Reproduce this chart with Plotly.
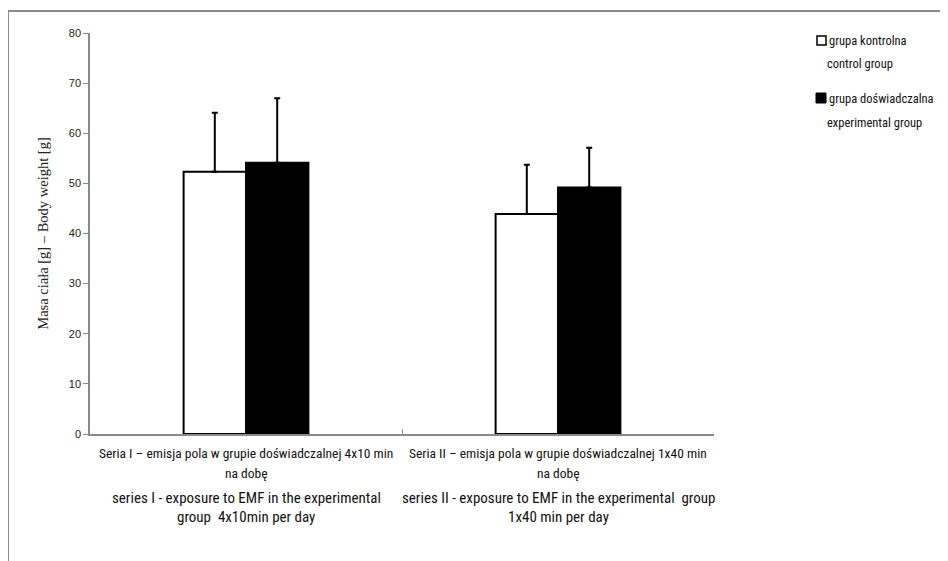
import plotly.graph_objects as go

# ---- data ----
categories = ["Seria I", "Seria II"]
control_values = [52.3, 43.9]
control_err = [11.8, 9.8]
experimental_values = [54.1, 49.2]
experimental_err = [12.9, 7.9]

series_names = ["grupa kontrolna", "grupa doświadczalna"]
series_names_en = ["control group", "experimental group"]

label_pl_1 = ["Seria I – emisja pola w grupie doświadczalnej 4x10 min",
              "Seria II – emisja pola w grupie doświadczalnej 1x40 min"]
label_pl_2 = ["na dobę", "na dobę"]
label_en_1 = ["series I - exposure to EMF in the experimental",
              "series II - exposure to EMF in the experimental  group"]
label_en_2 = ["group  4x10min per day", "1x40 min per day"]

y_ticks = [0, 10, 20, 30, 40, 50, 60, 70, 80]
y_title = "Masa ciała [g] – Body weight [g]"

# ---- layout geometry (page pixels; the page body has an 8px margin) ----
OFF = 8
W, H = 948 - OFF, 561 - OFF
PLOT_L, PLOT_R, PLOT_T, PLOT_B = 90, 714, 33, 434   # page pixels
L = PLOT_L - OFF
T = PLOT_T - OFF
R = (W + OFF) - PLOT_R
B = (H + OFF) - PLOT_B
PW = PLOT_R - PLOT_L
PH = PLOT_B - PLOT_T

def px(x):
    return (x - PLOT_L) / PW

def py(y):
    return (PLOT_B - y) / PH

TXT = "Roboto Condensed, sans-serif"

fig = go.Figure()
fig.add_trace(go.Bar(
    x=categories, y=control_values, name=series_names[0],
    marker=dict(color="white", line=dict(color="black", width=2)),
    error_y=dict(type="data", array=control_err, symmetric=False,
                 arrayminus=[0, 0], color="black", thickness=2, width=3),
    showlegend=False,
))
fig.add_trace(go.Bar(
    x=categories, y=experimental_values, name=series_names[1],
    marker=dict(color="black", line=dict(color="black", width=2)),
    error_y=dict(type="data", array=experimental_err, symmetric=False,
                 arrayminus=[0, 0], color="black", thickness=2, width=3),
    showlegend=False,
))

annotations = []
for i, c in enumerate(categories):
    for txt, ypx, size in [(label_pl_1[i], 453, 13.5), (label_pl_2[i], 473, 13.5),
                           (label_en_1[i], 498, 15), (label_en_2[i], 517, 15)]:
        annotations.append(dict(
            x=c, xref="x", y=py(ypx), yref="paper", text=txt,
            showarrow=False, xanchor="center", yanchor="middle",
            font=dict(family=TXT, size=size, color="#111")))

# custom legend
legend_rows = [(series_names[0], 40), (series_names_en[0], 63),
               (series_names[1], 98), (series_names_en[1], 122)]
for j, (txt, ypx) in enumerate(legend_rows):
    xpx = 827 if j % 2 == 0 else 825
    annotations.append(dict(
        x=px(xpx), xref="paper", y=py(ypx), yref="paper", text=txt,
        showarrow=False, xanchor="left", yanchor="middle",
        font=dict(family=TXT, size=12.5, color="#111")))

shapes = [
    # outer frame (partially visible)
    dict(type="line", xref="paper", yref="paper", x0=px(8), x1=px(1000),
         y0=py(11), y1=py(11), line=dict(color="#8a8a8a", width=2)),
    dict(type="line", xref="paper", yref="paper", x0=px(8), x1=px(8),
         y0=py(11), y1=py(600), line=dict(color="#8a8a8a", width=2)),
    # legend squares
    dict(type="rect", xref="paper", yref="paper", x0=px(817), x1=px(826),
         y0=py(36), y1=py(45), fillcolor="white",
         line=dict(color="black", width=1.5)),
    dict(type="rect", xref="paper", yref="paper", x0=px(816), x1=px(826),
         y0=py(93), y1=py(103), fillcolor="black",
         line=dict(color="black", width=1)),
]

fig.update_layout(
    width=W, height=H,
    margin=dict(l=L, r=R, t=T, b=B, pad=0),
    paper_bgcolor="white", plot_bgcolor="white",
    barmode="group", bargap=0.6, bargroupgap=0,
    annotations=annotations, shapes=shapes,
    showlegend=False,
)
fig.update_xaxes(
    type="category", range=[-0.5, len(categories) - 0.5], autorange=False,
    showticklabels=False, tickson="boundaries",
    ticks="inside", ticklen=5, tickcolor="#8a8a8a", tickwidth=1,
    showline=True, linecolor="#8a8a8a", linewidth=1.5,
    showgrid=False, zeroline=False,
)
fig.update_yaxes(
    range=[0, 80], autorange=False, tickvals=y_ticks, ticks="outside", ticklen=5,
    tickcolor="#8a8a8a", showline=True, linecolor="#8a8a8a", linewidth=1.5,
    showgrid=False, zeroline=False,
    tickfont=dict(family="Liberation Sans, Arial, sans-serif", size=11, color="#222"),
    title=dict(text=y_title, standoff=17,
               font=dict(family="Liberation Serif, Times New Roman, serif", size=14.5, color="#222")),
)

fig.write_html("out.html")
